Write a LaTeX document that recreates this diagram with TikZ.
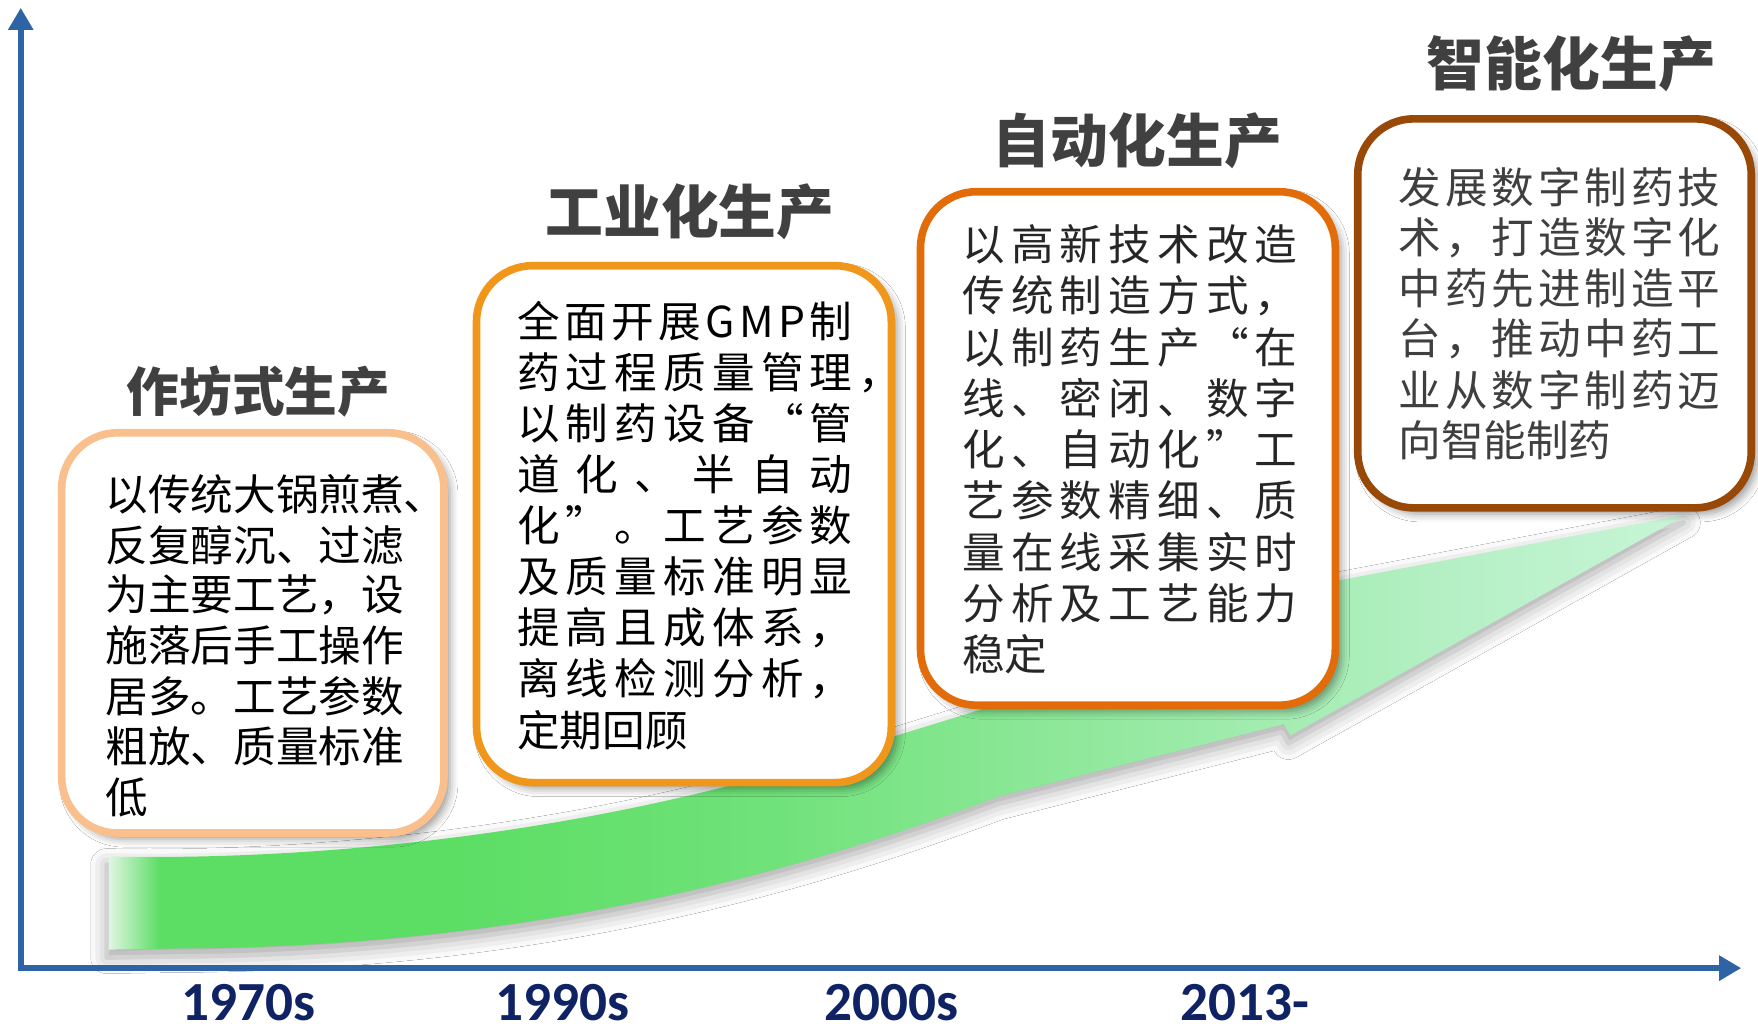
\documentclass[tikz,border=0pt]{standalone}
\usepackage{fontspec}
\newfontfamily\cjk{Noto Sans CJK SC}
\newfontfamily\yearfont{Carlito}
\usetikzlibrary{arrows.meta,shadows.blur,fit}
\definecolor{axisblue}{RGB}{46,99,166}
\definecolor{yearblue}{RGB}{14,34,100}
\definecolor{titlegray}{RGB}{64,64,64}
\definecolor{bordA}{RGB}{249,192,142}
\definecolor{bordB}{RGB}{240,150,27}
\definecolor{bordC}{RGB}{227,108,10}
\definecolor{bordD}{RGB}{152,72,7}
\definecolor{txtC}{RGB}{38,38,38}
\definecolor{txtD}{RGB}{63,63,63}
\definecolor{gFade}{RGB}{225,245,226}
\definecolor{gA}{RGB}{92,222,100}
\definecolor{gB}{RGB}{112,226,122}
\definecolor{gC}{RGB}{148,233,160}
\definecolor{gD}{RGB}{182,240,198}
\definecolor{gE}{RGB}{200,245,215}
\pgfdeclarehorizontalshading{greenarrow}{100bp}{color(0bp)=(gFade); color(25bp)=(gFade); color(26.6bp)=(gA); color(36bp)=(gA); color(46bp)=(gB); color(57bp)=(gC); color(68bp)=(gD); color(75bp)=(gE); color(100bp)=(gE)}
\makeatletter
\def\spr@first#1{#1\spr@next}
\def\spr@next#1{\ifx#1\relax\else\hfill#1\expandafter\spr@next\fi}
\newcommand\spreadline[2]{\makebox[#1][l]{\spr@first#2\relax}}
\makeatother
\tikzset{
  body/.style={anchor=west, inner sep=0pt, font=\cjk\fontsize{21.3pt}{21.3pt}\selectfont, text=black},
  stagetitle/.style={inner sep=0pt, font=\cjk\bfseries\fontsize{28.9pt}{28.9pt}\selectfont, text=titlegray},
  yearlabel/.style={anchor=base, inner sep=0pt, font=\yearfont\bfseries\fontsize{27.6pt}{27.6pt}\selectfont, text=yearblue},
  stagebox/.style={rounded corners=28pt, line width=3.8pt, fill=white, inner sep=0pt,
    blur shadow={shadow xshift=3pt, shadow yshift=-3pt, shadow blur radius=4pt, shadow opacity=40}},
  axisline/.style={draw=axisblue, line width=3pt, line join=miter,
    arrows={Triangle[width=12pt,length=11pt]-Triangle[width=12pt,length=11pt]}},
}
\begin{document}
\begin{tikzpicture}[x=0.560587pt, y=-0.560587pt]
\fill[white] (0,0) rectangle (1568,923);
\useasboundingbox (0,0) rectangle (1568,923);

% green growth arrow
\path[shading=greenarrow, blur shadow={shadow xshift=-1pt, shadow yshift=-4pt, shadow blur radius=8pt, shadow opacity=35}]
  (97,764) .. controls (300,768) and (560,740) .. (800,656) -- (1150,548) -- (1150,526)
  -- (1504,459) -- (1151,656) -- (1145,646) -- (892,710)
  .. controls (720,775) and (480,845) .. (156,846) -- (97,847) -- cycle;

% axes
\coordinate (ytip) at (18.5,7);
\coordinate (orig) at (18.5,863.5);
\coordinate (xtip) at (1553,863.5);
\draw[axisline] (ytip) -- (orig) -- (xtip);

% boxes
\node[stagebox, draw=bordA, fit={(55,386) (396,743)}] (box1) {};
\node[stagebox, draw=bordB, fit={(425,237) (795,698)}] (box2) {};
\node[stagebox, draw=bordC, fit={(821,171) (1191,629)}] (box3) {};
\node[stagebox, draw=bordD, fit={(1211,106) (1562,453)}] (box4) {};

% titles
\node[stagetitle, font=\cjk\bfseries\fontsize{26.35pt}{26.35pt}\selectfont] (t1) at (230.5,349) {作坊式生产};
\node[stagetitle] (t2) at (615.5,188.5) {工业化生产};
\node[stagetitle] (t3) at (1014.5,126) {自动化生产};
\node[stagetitle] (t4) at (1401.5,57) {智能化生产};

% box 1 text
\node[body] (a1) at (94,441) {以传统大锅煎煮、};
\node[body] (a2) at (94,486) {反复醇沉、过滤};
\node[body] (a3) at (94,531) {为主要工艺，设};
\node[body] (a4) at (94,576) {施落后手工操作};
\node[body] (a5) at (94,621) {居多。工艺参数};
\node[body] (a6) at (94,666) {粗放、质量标准};
\node[body] (a7) at (94,711) {低};

% box 2 text
\node[body] (b1) at (461,286.5) {\spreadline{167.6pt}{全面开展GMP制}};
\node[body] (b2) at (461,332.1) {\spreadline{167.6pt}{药过程质量管理}\hspace{3pt}\rlap{，}};
\node[body] (b3) at (461,377.7) {\spreadline{167.6pt}{以制药设备“管}};
\node[body] (b4) at (461,423.3) {\spreadline{167.6pt}{道化、半自动}};
\node[body] (b5) at (461,468.9) {\spreadline{167.6pt}{化”。工艺参数}};
\node[body] (b6) at (461,514.5) {\spreadline{167.6pt}{及质量标准明显}};
\node[body] (b7) at (461,560.1) {\spreadline{167.6pt}{提高且成体系，}};
\node[body] (b8) at (461,605.7) {\spreadline{167.6pt}{离线检测分析，}};
\node[body] (b9) at (461,651.3) {定期回顾};

% box 3 text
\node[body, text=txtC] (c1) at (858,218) {\spreadline{167.6pt}{以高新技术改造}};
\node[body, text=txtC] (c2) at (858,263.7) {\spreadline{167.6pt}{传统制造方式，}};
\node[body, text=txtC] (c3) at (858,309.4) {\spreadline{167.6pt}{以制药生产“在}};
\node[body, text=txtC] (c4) at (858,355.1) {\spreadline{167.6pt}{线、密闭、数字}};
\node[body, text=txtC] (c5) at (858,400.8) {\spreadline{167.6pt}{化、自动化”工}};
\node[body, text=txtC] (c6) at (858,446.5) {\spreadline{167.6pt}{艺参数精细、质}};
\node[body, text=txtC] (c7) at (858,492.2) {\spreadline{167.6pt}{量在线采集实时}};
\node[body, text=txtC] (c8) at (858,537.9) {\spreadline{167.6pt}{分析及工艺能力}};
\node[body, text=txtC] (c9) at (858,583.6) {稳定};

% box 4 text
\node[body, text=txtD] (d1) at (1247,167) {\spreadline{160.9pt}{发展数字制药技}};
\node[body, text=txtD] (d2) at (1247,212.2) {\spreadline{160.9pt}{术，打造数字化}};
\node[body, text=txtD] (d3) at (1247,257.4) {\spreadline{160.9pt}{中药先进制造平}};
\node[body, text=txtD] (d4) at (1247,302.6) {\spreadline{160.9pt}{台，推动中药工}};
\node[body, text=txtD] (d5) at (1247,347.8) {\spreadline{160.9pt}{业从数字制药迈}};
\node[body, text=txtD] (d6) at (1247,393) {向智能制药};

% years
\node[yearlabel] (y1) at (221.5,910) {1970s};
\node[yearlabel] (y2) at (501.5,910) {1990s};
\node[yearlabel] (y3) at (795,910) {2000s};
\node[yearlabel] (y4) at (1110,910) {2013-};
\end{tikzpicture}
\end{document}
